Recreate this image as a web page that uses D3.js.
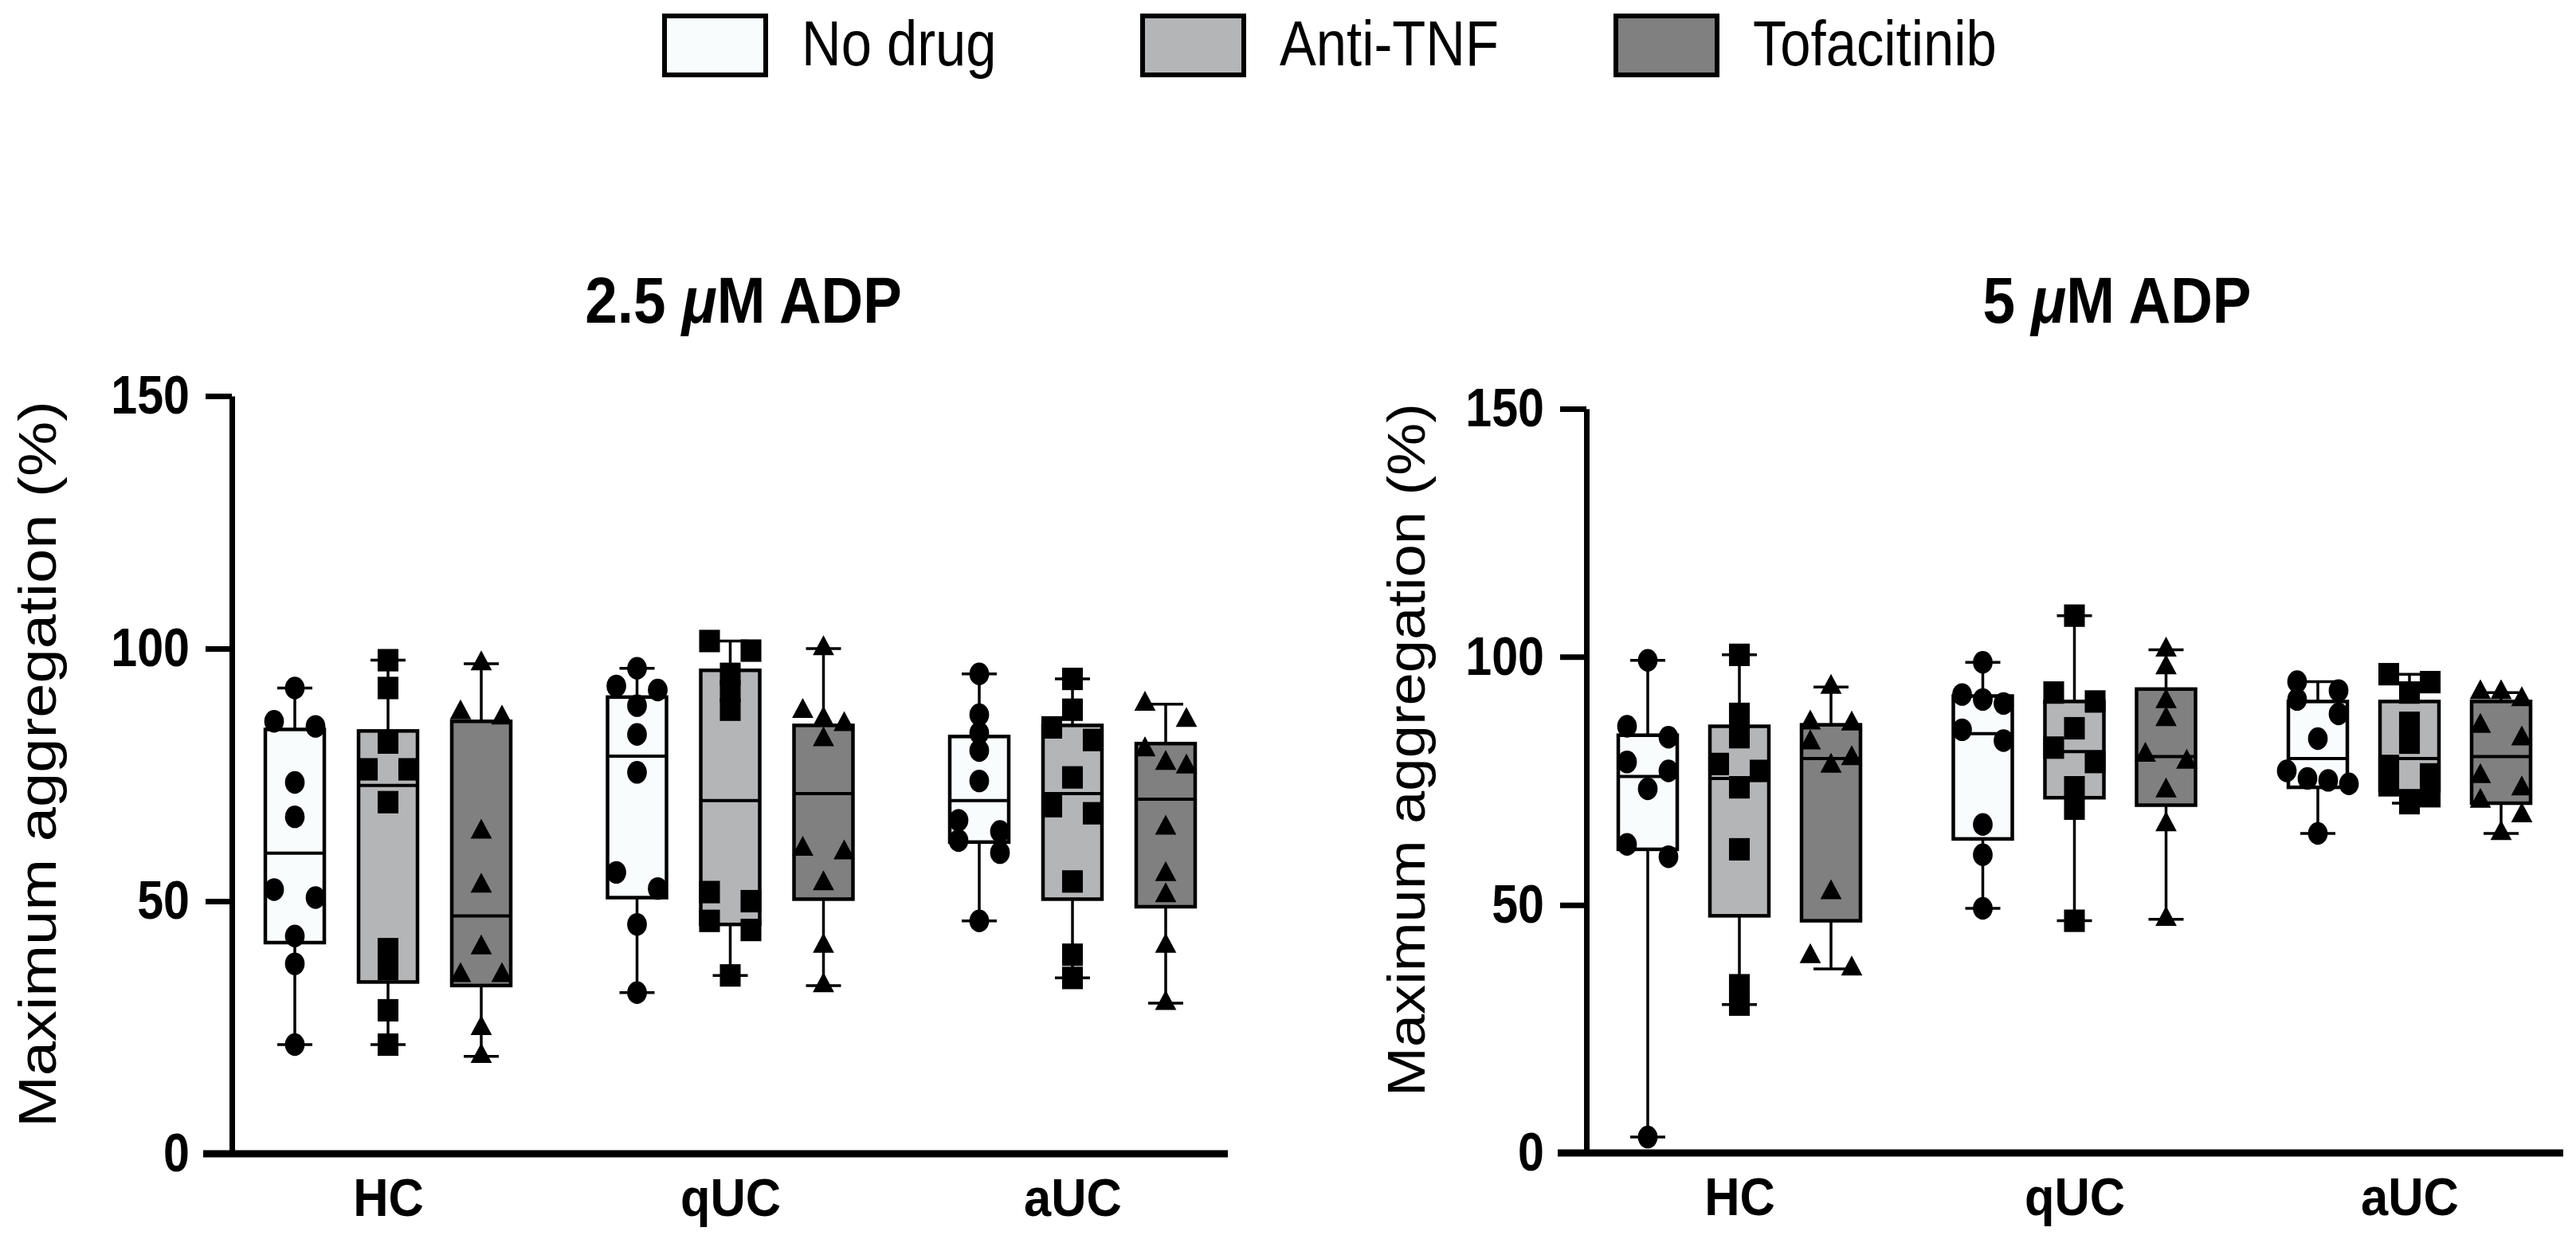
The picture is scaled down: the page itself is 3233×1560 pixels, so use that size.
<!DOCTYPE html>
<html>
<head>
<meta charset="utf-8">
<script src="https://cdn.jsdelivr.net/npm/d3@7"></script>
<style>
body { margin: 0; background: #fff; }
text { font-family: "Liberation Sans", Arial, sans-serif; fill: #000; }
</style>
</head>
<body>
<div id="chart"></div>
<script>
var groups = ["HC", "qUC", "aUC"]
var treatments = ["No drug", "Anti-TNF", "Tofacitinib"]
var fills = ["#f9fcfd", "#b4b5b7", "#808080"]
var yTicks = [0, 50, 100, 150]
var titles = ["2.5 \u03bcM ADP", "5 \u03bcM ADP"]

// [min, q1, median, q3, max], rows = HC/qUC/aUC x No drug/Anti-TNF/Tofacitinib
var box25 = [
    [21.6, 41.8, 59.5, 84.0, 92.2],
    [21.6, 34.0, 72.9, 83.7, 97.7],
    [19.3, 33.3, 47.1, 85.6, 97.0],
    [31.9, 50.7, 78.7, 90.4, 96.1],
    [35.3, 45.4, 69.9, 95.7, 101.5],
    [33.3, 50.4, 71.3, 84.8, 100.0],
    [46.1, 61.7, 69.9, 82.6, 95.0],
    [34.8, 50.4, 71.3, 84.8, 94.0],
    [29.8, 48.9, 70.2, 81.2, 89.0]
]
var pts25 = [
    [92.2, 85.6, 84.6, 73.5, 66.7, 52.3, 50.7, 43.1, 37.6, 21.6],
    [97.7, 92.2, 81.4, 76.1, 76.1, 69.6, 40.5, 36.6, 28.4, 21.6],
    [97.0, 87.3, 86.3, 63.7, 53.0, 40.8, 35.3, 35.3, 24.8, 19.3],
    [96.1, 92.6, 91.8, 88.7, 83.0, 75.5, 55.7, 52.5, 45.4, 31.9],
    [101.5, 99.6, 95.0, 91.5, 87.9, 51.8, 50.0, 46.1, 44.3, 35.3],
    [100.0, 87.6, 86.0, 85.0, 82.0, 60.3, 59.6, 53.5, 41.1, 33.3],
    [95.0, 86.9, 83.3, 79.8, 73.8, 66.0, 63.8, 62.0, 59.6, 46.1],
    [94.0, 87.9, 84.4, 81.9, 74.5, 68.8, 67.4, 53.9, 39.4, 34.8],
    [89.0, 85.8, 80.0, 77.3, 76.6, 64.5, 55.3, 51.1, 41.1, 29.8]
]
var box5 = [
    [3.2, 61.2, 75.9, 84.2, 99.3],
    [29.9, 47.8, 75.5, 86.0, 100.4],
    [37.1, 46.8, 79.5, 86.3, 93.9],
    [49.3, 63.3, 84.5, 92.1, 98.9],
    [46.8, 71.6, 80.9, 91.0, 108.3],
    [47.1, 70.1, 79.9, 93.5, 101.4],
    [64.4, 73.7, 79.5, 91.0, 95.0],
    [70.5, 73.0, 79.5, 91.0, 96.5],
    [64.4, 70.5, 79.9, 91.0, 92.8]
]
var pts5 = [
    [99.3, 86.0, 83.8, 78.8, 77.0, 73.4, 62.2, 59.7, 3.2],
    [100.4, 88.5, 83.8, 78.4, 77.0, 73.7, 61.2, 33.8, 29.9],
    [93.9, 86.7, 86.5, 82.7, 79.5, 78.0, 52.5, 39.6, 37.1],
    [98.9, 92.4, 91.4, 90.6, 85.3, 83.1, 66.2, 60.1, 49.3],
    [108.3, 92.8, 91.0, 85.6, 81.7, 78.8, 73.7, 69.4, 46.8],
    [101.4, 97.8, 91.0, 87.4, 80.2, 78.8, 73.0, 66.2, 47.1],
    [95.0, 93.2, 91.4, 88.5, 83.5, 77.0, 75.5, 75.1, 74.4, 64.4],
    [96.5, 94.9, 92.8, 86.7, 82.7, 78.0, 76.3, 74.1, 71.9, 70.5],
    [92.8, 92.8, 91.4, 86.0, 83.5, 75.9, 73.4, 70.9, 68.0, 64.4]
]

var W = 3233, H = 1560
var shapes = [d3.symbolCircle, d3.symbolSquare, d3.symbolTriangle]
var symSizes = [480, 680, 310]
var symStretch = [1.15, 1.08, 1.08]   // the figure is slightly taller than wide
var boxW = 74, capW = 44, spread = 26

var svg = d3.select("#chart").append("svg")
    .attr("width", W).attr("height", H)
    .style("background", "#fff")

// squeeze text to a given fraction of its natural width
function squeeze(sel, k) {
    sel.each(function() {
        var w = this.getComputedTextLength()
        d3.select(this).attr("textLength", w * k).attr("lengthAdjust", "spacingAndGlyphs")
    })
}

// legend
var legX = [834, 1434, 2028]
var leg = svg.append("g").attr("class", "legend")
treatments.forEach(function(t, i) {
    leg.append("rect")
        .attr("x", legX[i]).attr("y", 20)
        .attr("width", 127).attr("height", 74)
        .attr("fill", fills[i]).attr("stroke", "#000").attr("stroke-width", 6)
    leg.append("text")
        .attr("x", legX[i] + 172).attr("y", 82)
        .attr("font-size", 79)
        .text(t)
        .call(squeeze, 0.87)
})

var panels = [
    {title: titles[0], box: box25, pts: pts25, axisX: 291, xStart: 255, xEnd: 1541, yTop: 497, yBot: 1448,
     c0: 487, c2: 1346, inner: 117, titleX: 933, ylabX: 70, ylabY: 959, ylabLen: 912},
    {title: titles[1], box: box5, pts: pts5, axisX: 1991, xStart: 1955, xEnd: 3217, yTop: 513, yBot: 1447,
     c0: 2183, c2: 3024, inner: 115, titleX: 2657, ylabX: 1788, ylabY: 941, ylabLen: 870}
]

panels.forEach(drawPanel)

function drawPanel(p) {
    var g = svg.append("g")
    var y = d3.scaleLinear().domain([0, 150]).range([p.yBot, p.yTop])
    var xg = d3.scalePoint().domain(groups).range([p.c0, p.c2])
    var xt = d3.scalePoint().domain(treatments).range([-p.inner, p.inner])

    // title
    var tt = g.append("text")
        .attr("transform", "translate(" + p.titleX + ",405) scale(0.9,1)")
        .attr("text-anchor", "middle")
        .attr("font-size", 81).attr("font-weight", "bold")
    var parts = p.title.split("\u03bc")
    tt.append("tspan").text(parts[0])
    tt.append("tspan").attr("font-style", "italic").text("\u03bc")
    tt.append("tspan").text(parts[1])

    // y axis
    var ya = g.append("g")
        .attr("transform", "translate(" + p.axisX + ",0)")
        .call(d3.axisLeft(y).tickValues(yTicks).tickSize(33).tickSizeOuter(0).tickPadding(20))
    ya.select(".domain").attr("stroke", "#000").attr("stroke-width", 7)
    ya.selectAll(".tick line").attr("stroke", "#000").attr("stroke-width", 7)
    ya.selectAll(".tick text")
        .attr("font-size", 68).attr("font-weight", "bold")
        .attr("font-family", "Liberation Sans, Arial, sans-serif")
        .attr("fill", "#000")
        .call(squeeze, 0.87)

    // y label
    g.append("text")
        .attr("transform", "translate(" + p.ylabX + "," + p.ylabY + ") rotate(-90)")
        .attr("text-anchor", "middle")
        .attr("font-size", 67)
        .attr("textLength", p.ylabLen).attr("lengthAdjust", "spacingAndGlyphs")
        .text("Maximum aggregation (%)")

    // x axis line and labels
    g.append("line")
        .attr("x1", p.xStart).attr("x2", p.xEnd)
        .attr("y1", y(0)).attr("y2", y(0))
        .attr("stroke", "#000").attr("stroke-width", 9)
    var xa = g.append("g")
        .attr("transform", "translate(0," + y(0) + ")")
        .call(d3.axisBottom(xg).tickSize(0).tickPadding(31))
    xa.select(".domain").remove()
    xa.selectAll(".tick text")
        .attr("font-size", 66).attr("font-weight", "bold")
        .attr("font-family", "Liberation Sans, Arial, sans-serif")
        .attr("fill", "#000")
        .call(squeeze, 0.93)

    // boxes
    groups.forEach(function(gr, gi) {
        treatments.forEach(function(tr, ti) {
            var idx = gi * 3 + ti
            var s = p.box[idx]
            var cx = xg(gr) + xt(tr)
            var bg = g.append("g")
            bg.selectAll(".whisk").data([[s[0], s[1]], [s[3], s[4]]]).enter().append("line")
                .attr("x1", cx).attr("x2", cx)
                .attr("y1", function(d) { return y(d[0]) })
                .attr("y2", function(d) { return y(d[1]) })
                .attr("stroke", "#000").attr("stroke-width", 3.5)
            bg.selectAll(".cap").data([s[0], s[4]]).enter().append("line")
                .attr("x1", cx - capW / 2).attr("x2", cx + capW / 2)
                .attr("y1", function(d) { return y(d) })
                .attr("y2", function(d) { return y(d) })
                .attr("stroke", "#000").attr("stroke-width", 3.5)
            bg.append("rect")
                .attr("x", cx - boxW / 2).attr("width", boxW)
                .attr("y", y(s[3])).attr("height", y(s[1]) - y(s[3]))
                .attr("fill", fills[ti]).attr("stroke", "#000").attr("stroke-width", 4.5)
            bg.append("line")
                .attr("x1", cx - boxW / 2).attr("x2", cx + boxW / 2)
                .attr("y1", y(s[2])).attr("y2", y(s[2]))
                .attr("stroke", "#000").attr("stroke-width", 4)

            // spread points that would overlap
            var vals = p.pts[idx].slice().sort(d3.descending)
            var clusters = []
            vals.forEach(function(v) {
                var c = clusters[clusters.length - 1]
                if (c && y(v) - y(c[0]) < 22) c.push(v)
                else clusters.push([v])
            })
            var placed = []
            clusters.forEach(function(c) {
                var n = c.length
                c.forEach(function(v, k) {
                    var off = n == 2 ? (k == 0 ? -spread : spread) : (k - (n - 1) / 2) * spread
                    placed.push({v: v, dx: off})
                })
            })
            bg.selectAll(".pt").data(placed).enter().append("path")
                .attr("d", d3.symbol().type(shapes[ti]).size(symSizes[ti]))
                .attr("transform", function(d) {
                    return "translate(" + (cx + d.dx) + "," + y(d.v) + ") scale(1," + symStretch[ti] + ")"
                })
                .attr("fill", "#000")
        })
    })
}
</script>
</body>
</html>
